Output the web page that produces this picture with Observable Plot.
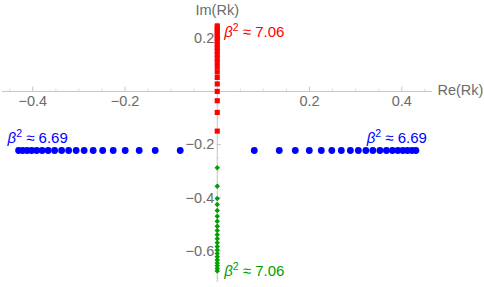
<!DOCTYPE html>
<html><head><meta charset="utf-8">
<script src="https://cdn.jsdelivr.net/npm/d3@7"></script>
<script src="https://cdn.jsdelivr.net/npm/@observablehq/plot@0.6"></script>
<style>body{margin:0;background:#fff}</style>
</head><body><div id="chart"></div>
<script>
// Eigenvalue positions
const redIm = [-0.1492, -0.0789, -0.0350, 0.0000, 0.0282, 0.0526, 0.0733, 0.0914, 0.1090, 0.1241, 0.1380, 0.1515, 0.1643, 0.1767, 0.1880, 0.1992, 0.2094, 0.2192, 0.2286, 0.2376, 0.2462];
const greenIm = [-0.2868, -0.3560, -0.4023, -0.4248, -0.4474, -0.4688, -0.4876, -0.5064, -0.5226, -0.5387, -0.5538, -0.5688, -0.5827, -0.5959, -0.6090, -0.6214, -0.6335, -0.6447, -0.6553, -0.6654, -0.6748];
const blueLeftRe = [-0.4307, -0.4220, -0.4122, -0.4025, -0.3916, -0.3797, -0.3667, -0.3526, -0.3374, -0.3222, -0.3059, -0.2886, -0.2690, -0.2484, -0.2256, -0.1996, -0.1692, -0.1345, -0.0803];
const blueRightRe = [0.0803, 0.1345, 0.1692, 0.1996, 0.2256, 0.2484, 0.2690, 0.2886, 0.3059, 0.3222, 0.3374, 0.3526, 0.3667, 0.3797, 0.3916, 0.4025, 0.4122, 0.4220, 0.4307];
const blueIm = -0.222;
const redLabel = "β² ≈ 7.06";
const greenLabel = "β² ≈ 7.06";
const blueLabel = "β² ≈ 6.69";
const xTicks = [-0.4, -0.2, 0.2, 0.4];
const yTicks = [-0.6, -0.4, -0.2, 0.2];
const xMinor = [-0.45, -0.35, -0.3, -0.25, -0.15, -0.1, -0.05, 0.05, 0.1, 0.15, 0.25, 0.3, 0.35, 0.45];
const yMinor = [-0.7, -0.65, -0.55, -0.5, -0.45, -0.35, -0.3, -0.25, -0.15, -0.1, -0.05, 0.05, 0.1, 0.15, 0.25];

const RED = "#ff0000", BLUE = "#0000ff", GREEN = "#00a000", AX = "#c4c4c4", TXT = "#6b6b6b";
const fmt = d => d.toFixed(1).replace("-", "\u2212");
const blue = [...blueLeftRe, ...blueRightRe];

const chart = Plot.plot({
  width: 484, height: 287,
  marginTop: 22, marginBottom: 5, marginLeft: 2, marginRight: 52,
  x: {domain: [-0.4656, 0.4667], axis: null},
  y: {domain: [-0.718, 0.259], axis: null},
  style: {fontFamily: "'Liberation Sans', Arial, sans-serif", background: "#fff", overflow: "visible"},
  marks: [
    Plot.ruleY([0], {stroke: AX, strokeWidth: 1}),
    Plot.ruleX([0], {stroke: AX, strokeWidth: 1}),
    Plot.ruleX(xTicks, {x: d => d, y1: 0, y2: 0.016, stroke: AX}),
    Plot.ruleX(xMinor, {x: d => d, y1: 0, y2: 0.009, stroke: AX, strokeOpacity: 0.6}),
    Plot.ruleY(yTicks, {y: d => d, x1: 0, x2: 0.009, stroke: AX}),
    Plot.ruleY(yMinor, {y: d => d, x1: 0, x2: 0.005, stroke: AX, strokeOpacity: 0.6}),
    Plot.text(xTicks, {x: d => d, y: 0, dy: 10, text: fmt, fill: TXT, fontSize: 14.5}),
    Plot.text(yTicks, {x: 0, y: d => d, dx: -3, text: fmt, fill: TXT, fontSize: 14.5, textAnchor: "end"}),
    Plot.text(["Re(Rk)"], {frameAnchor: "right", y: 0, dx: 5, dy: -1, text: d => d, fill: TXT, fontSize: 14.5, textAnchor: "start", lineAnchor: "middle"}),
    Plot.text(["Im(Rk)"], {frameAnchor: "top", x: 0, dy: -12, text: d => d, fill: TXT, fontSize: 14.5, lineAnchor: "middle"}),
    Plot.dot(blue, {x: d => d, y: blueIm, r: 3.4, fill: BLUE, stroke: "none"}),
    Plot.dot(redIm, {x: 0, y: d => d, symbol: "square", r: 2.9, fill: RED, stroke: "none"}),
    Plot.dot(greenIm, {x: 0, y: d => d, symbol: "square", rotate: 45, r: 2.2, fill: GREEN, stroke: "none"}),
    Plot.text([redLabel], {x: 0, y: redIm[redIm.length - 1], dx: 7, dy: 6, text: d => d, fill: RED, fontSize: 15, textAnchor: "start"}),
    Plot.text([greenLabel], {x: 0, y: greenIm[greenIm.length - 1], dx: 7, dy: 0, text: d => d, fill: GREEN, fontSize: 15, textAnchor: "start"}),
    Plot.text([blueLabel], {x: blueLeftRe[0], y: blueIm, dx: -11, dy: -12, text: d => d, fill: BLUE, fontSize: 15, textAnchor: "start"}),
    Plot.text([blueLabel], {x: blueRightRe[blueRightRe.length - 1], y: blueIm, dx: 11, dy: -12, text: d => d, fill: BLUE, fontSize: 15, textAnchor: "end"})
  ]
});

// italic beta and raised exponent
d3.select(chart).selectAll("text").each(function() {
  const t = this.textContent;
  if (t.startsWith("β²")) {
    const rest = t.slice(2);
    const sel = d3.select(this);
    sel.text(null);
    sel.append("tspan").attr("font-style", "italic").text("β");
    sel.append("tspan").attr("dy", "-6").attr("font-size", "10.5").text("2");
    sel.append("tspan").attr("dy", "6").text(rest);
  }
});
document.getElementById("chart").appendChild(chart);
</script>
</body></html>
